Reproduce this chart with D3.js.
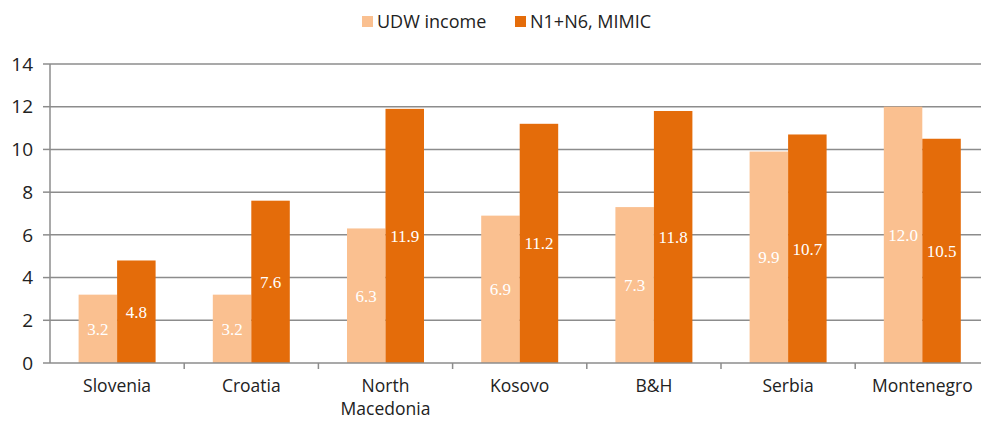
<!DOCTYPE html>
<html>
<head>
<meta charset="utf-8">
<script src="https://cdn.jsdelivr.net/npm/d3@7"></script>
<style>
  body { margin: 0; background: #fff; }
  svg { display: block; }
  .tick-label { font-family: "Open Sans", "Noto Sans", sans-serif; fill: #222; }
  .bar-label { font-family: "Liberation Serif", "DejaVu Serif", serif; fill: #fff; }
</style>
</head>
<body>
<div id="chart"></div>
<script>
var categories = ["Slovenia", "Croatia", "North Macedonia", "Kosovo", "B&H", "Serbia", "Montenegro"];
var seriesNames = ["UDW income", "N1+N6, MIMIC"];
var udwIncome = [3.2, 3.2, 6.3, 6.9, 7.3, 9.9, 12.0];
var mimic = [4.8, 7.6, 11.9, 11.2, 11.8, 10.7, 10.5];
var yTicks = [0, 2, 4, 6, 8, 10, 12, 14];
var colors = ["#FAC090", "#E46C0A"];

var width = 981, height = 421;
var svg = d3.select("#chart").append("svg")
    .attr("width", width)
    .attr("height", height);

var x0 = d3.scaleBand()
    .domain(categories)
    .range([50, 989.4])
    .paddingInner(0)
    .paddingOuter(0);

var x1 = d3.scaleBand()
    .domain(seriesNames)
    .range([0, x0.bandwidth()])
    .paddingInner(0)
    .paddingOuter(0.743);

var y = d3.scaleLinear()
    .domain([0, 14])
    .range([363, 64]);

// gridlines
svg.append("g").selectAll("line")
    .data(yTicks.filter(function(d) { return d > 0; }))
    .enter().append("line")
    .attr("x1", 50).attr("x2", width)
    .attr("y1", function(d) { return y(d); })
    .attr("y2", function(d) { return y(d); })
    .attr("stroke", "#8c8c8c")
    .attr("stroke-width", 1.5);

var data = categories.map(function(c, i) {
    return { cat: c, values: [udwIncome[i], mimic[i]] };
});

var groups = svg.append("g").selectAll("g.group")
    .data(data).enter()
    .append("g")
    .attr("class", "group")
    .attr("transform", function(d) { return "translate(" + x0(d.cat) + ",0)"; });

function pairs(d) {
    return d.values.map(function(v, j) { return { s: seriesNames[j], v: v, j: j }; });
}

groups.selectAll("rect")
    .data(pairs)
    .enter().append("rect")
    .attr("x", function(d) { return x1(d.s); })
    .attr("width", x1.bandwidth())
    .attr("y", function(d) { return y(d.v); })
    .attr("height", function(d) { return y(0) - y(d.v); })
    .attr("fill", function(d) { return colors[d.j]; });

groups.selectAll("text.bar-label")
    .data(pairs)
    .enter().append("text")
    .attr("class", "bar-label")
    .attr("x", function(d) { return x1(d.s) + x1.bandwidth() / 2; })
    .attr("y", function(d) { return (y(d.v) + y(0)) / 2; })
    .attr("dy", "0.35em")
    .attr("text-anchor", "middle")
    .attr("font-size", 17)
    .text(function(d) { return d.v.toFixed(1); });

// y axis
var yAxis = svg.append("g");
yAxis.append("line")
    .attr("x1", 50).attr("x2", 50)
    .attr("y1", y(14)).attr("y2", y(0))
    .attr("stroke", "#8c8c8c").attr("stroke-width", 1.5);
yAxis.selectAll("line.tick")
    .data(yTicks).enter().append("line")
    .attr("class", "tick")
    .attr("x1", 43).attr("x2", 50)
    .attr("y1", function(d) { return y(d); })
    .attr("y2", function(d) { return y(d); })
    .attr("stroke", "#8c8c8c").attr("stroke-width", 1.5);
yAxis.selectAll("text")
    .data(yTicks).enter().append("text")
    .attr("class", "tick-label")
    .attr("x", 33)
    .attr("y", function(d) { return y(d); })
    .attr("dy", "0.35em")
    .attr("text-anchor", "end")
    .attr("font-size", 19)
    .text(function(d) { return d; });

// x axis
var xAxis = svg.append("g");
xAxis.append("line")
    .attr("x1", 50).attr("x2", width)
    .attr("y1", y(0)).attr("y2", y(0))
    .attr("stroke", "#8c8c8c").attr("stroke-width", 1.5);
xAxis.selectAll("line.tick")
    .data(categories.slice(1)).enter().append("line")
    .attr("class", "tick")
    .attr("x1", function(d) { return x0(d); })
    .attr("x2", function(d) { return x0(d); })
    .attr("y1", y(0)).attr("y2", y(0) + 6)
    .attr("stroke", "#8c8c8c").attr("stroke-width", 1.5);

// category labels, one text per line
var labelLines = [];
categories.forEach(function(c) {
    var words = c === "North Macedonia" ? ["North", "Macedonia"] : [c];
    words.forEach(function(w, i) { labelLines.push({ cat: c, text: w, line: i }); });
});

xAxis.selectAll("text")
    .data(labelLines).enter().append("text")
    .attr("class", "tick-label")
    .attr("text-anchor", "middle")
    .attr("font-size", 17.5)
    .attr("x", function(d) { return x0(d.cat) + x0.bandwidth() / 2; })
    .attr("y", function(d) { return 392 + d.line * 23; })
    .text(function(d) { return d.text; });

// legend
var legend = svg.append("g").attr("transform", "translate(0,22)");
var legendX = [362, 515];
seriesNames.forEach(function(name, i) {
    legend.append("rect")
        .attr("x", legendX[i]).attr("y", -6)
        .attr("width", 11).attr("height", 11)
        .attr("fill", colors[i]);
    legend.append("text")
        .attr("class", "tick-label")
        .attr("x", legendX[i] + 15)
        .attr("y", 0)
        .attr("dy", "0.35em")
        .attr("font-size", 18)
        .text(name);
});
</script>
</body>
</html>
